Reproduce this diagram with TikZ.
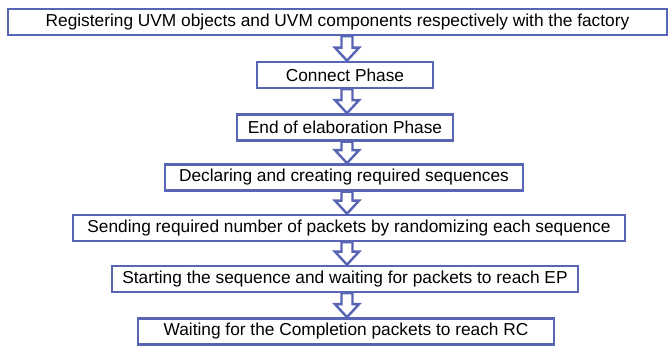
\documentclass[tikz,border=0pt]{standalone}
\usepackage{xcolor}
\usepackage{fontspec}
\setmainfont{Liberation Sans}
\usepackage{tikz}
\usetikzlibrary{calc}
\definecolor{flowblue}{RGB}{88, 100, 180}

\begin{document}
\begin{tikzpicture}[
  x=1pt, y=-1pt,
  stage/.style={
    rectangle, draw=flowblue, line width=2.6pt, fill=white,
    minimum height=26pt, inner sep=0pt,
    text centered, font=\fontsize{17.3}{19}\selectfont
  },
  hollow/.style={
    draw=flowblue, line width=2.4pt, fill=white, line join=miter,
    to path={let \p1=(\tikztostart), \p2=(\tikztotarget) in
      ({\x1-5.5pt},\y1) -- ({\x1-5.5pt},{\y2+13pt}) -- ({\x1-12pt},{\y2+13pt})
      -- (\x1,\y2) -- ({\x1+12pt},{\y2+13pt}) -- ({\x1+5.5pt},{\y2+13pt})
      -- ({\x1+5.5pt},\y1) -- cycle}
  }
]
  \fill[white] (0,0) rectangle (670,347);
  \useasboundingbox (0,0) rectangle (670,347);

  \coordinate (ax) at (347,0);

  \node[stage, minimum width=659pt] (s1) at (337.5,22) {Registering UVM objects and UVM components respectively with the factory};
  \node[stage, minimum width=176pt] (s2) at (345,75) {Connect Phase};
  \node[stage, minimum width=216pt] (s3) at (345,127.5) {End of elaboration Phase};
  \node[stage, minimum width=358pt] (s4) at (344,177.5) {Declaring and creating required sequences};
  \node[stage, minimum width=552pt] (s5) at (349,228) {Sending required number of packets by randomizing each sequence};
  \node[stage, minimum width=466pt] (s6) at (345,279) {Starting the sequence and waiting for packets to reach EP};
  \node[stage, minimum width=416pt] (s7) at (346,331.5) {Waiting for the Completion packets to reach RC};

  \draw[hollow] (s1.south -| ax) to (s2.north -| ax);
  \draw[hollow] (s2.south -| ax) to (s3.north -| ax);
  \draw[hollow] (s3.south -| ax) to (s4.north -| ax);
  \draw[hollow] (s4.south -| ax) to (s5.north -| ax);
  \draw[hollow] (s5.south -| ax) to (s6.north -| ax);
  \draw[hollow] (s6.south -| ax) to (s7.north -| ax);
\end{tikzpicture}
\end{document}
